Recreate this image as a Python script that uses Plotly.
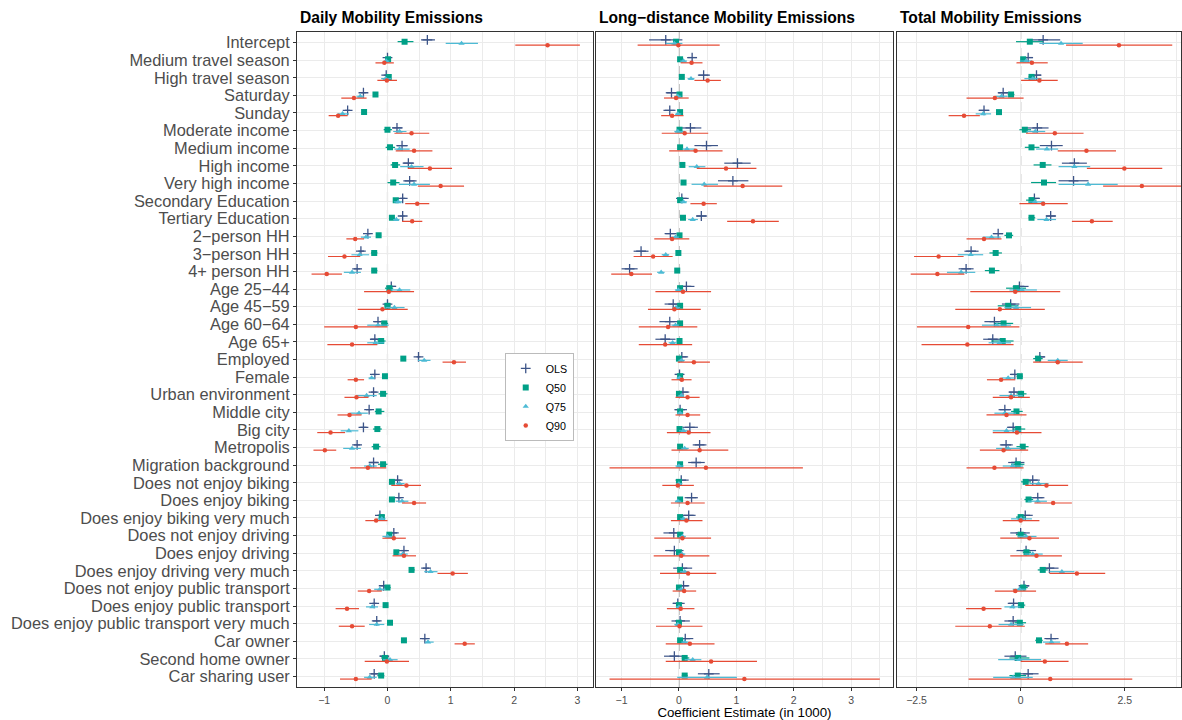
import plotly.graph_objects as go

M = "\u2212"
categories = [
    "Intercept", "Medium travel season", "High travel season", "Saturday", "Sunday",
    "Moderate income", "Medium income", "High income", "Very high income",
    "Secondary Education", "Tertiary Education", "2" + M + "person HH", "3" + M + "person HH",
    "4+ person HH", "Age 25" + M + "44", "Age 45" + M + "59", "Age 60" + M + "64", "Age 65+",
    "Employed", "Female", "Urban environment", "Middle city", "Big city", "Metropolis",
    "Migration background", "Does not enjoy biking", "Does enjoy biking",
    "Does enjoy biking very much", "Does not enjoy driving", "Does enjoy driving",
    "Does enjoy driving very much", "Does not enjoy public transport",
    "Does enjoy public transport", "Does enjoy public transport very much",
    "Car owner", "Second home owner", "Car sharing user",
]

panel_titles = ["Daily Mobility Emissions", "Long" + M + "distance Mobility Emissions", "Total Mobility Emissions"]
models = ["OLS", "Q50", "Q75", "Q90"]

# ---------------- Daily ----------------
daily_ols_est = [0.63, 0.0, -0.02, -0.38, -0.63, 0.15, 0.23, 0.33, 0.35, 0.24, 0.24, -0.31, -0.42, -0.48, 0.06, 0.0, -0.15, -0.2, 0.49, -0.2, -0.22, -0.29, -0.38, -0.48, -0.22, 0.16, 0.18, -0.12, 0.1, 0.26, 0.61, -0.06, -0.21, -0.17, 0.59, -0.05, -0.21]
daily_ols_lo = [0.53, -0.04, -0.06, -0.42, -0.67, 0.08, 0.14, 0.24, 0.25, 0.2, 0.2, -0.34, -0.46, -0.53, 0.01, -0.05, -0.21, -0.26, 0.46, -0.24, -0.26, -0.34, -0.43, -0.53, -0.29, 0.12, 0.15, -0.16, 0.05, 0.21, 0.56, -0.11, -0.24, -0.23, 0.55, -0.12, -0.26]
daily_ols_hi = [0.75, 0.04, 0.02, -0.34, -0.59, 0.24, 0.32, 0.42, 0.46, 0.28, 0.27, -0.27, -0.37, -0.43, 0.13, 0.05, -0.09, -0.15, 0.52, -0.17, -0.17, -0.25, -0.33, -0.43, -0.14, 0.21, 0.22, -0.07, 0.15, 0.31, 0.66, -0.02, -0.17, -0.12, 0.63, 0.02, -0.15]

daily_q50_est = [0.27, 0.01, 0.02, -0.19, -0.37, 0.0, 0.04, 0.12, 0.09, 0.13, 0.07, -0.14, -0.21, -0.21, 0.03, 0.0, -0.05, -0.1, 0.25, -0.04, -0.07, -0.14, -0.16, -0.18, -0.07, 0.07, 0.07, -0.09, 0.03, 0.14, 0.38, 0.0, -0.03, 0.04, 0.26, -0.04, -0.1]
daily_q50_lo = [0.16, -0.02, -0.01, -0.21, -0.39, -0.06, -0.03, 0.05, 0.0, 0.09, 0.04, -0.18, -0.26, -0.25, -0.04, -0.05, -0.1, -0.16, 0.22, -0.06, -0.14, -0.2, -0.23, -0.25, -0.15, 0.04, 0.04, -0.14, -0.01, 0.1, 0.34, -0.05, -0.06, 0.0, 0.24, -0.1, -0.16]
daily_q50_hi = [0.41, 0.04, 0.05, -0.17, -0.35, 0.07, 0.12, 0.2, 0.19, 0.18, 0.11, -0.1, -0.16, -0.16, 0.09, 0.05, 0.01, -0.03, 0.28, -0.02, 0.0, -0.05, -0.09, -0.11, 0.0, 0.12, 0.12, -0.05, 0.06, 0.18, 0.43, 0.05, 0.01, 0.08, 0.28, 0.02, -0.05]

daily_q75_est = [1.17, -0.02, -0.03, -0.43, -0.71, 0.19, 0.19, 0.38, 0.42, 0.17, 0.14, -0.34, -0.44, -0.56, 0.19, 0.11, -0.15, -0.19, 0.58, -0.25, -0.33, -0.45, -0.61, -0.56, -0.28, 0.19, 0.23, -0.09, 0.0, 0.24, 0.68, -0.12, -0.24, -0.17, 0.64, 0.04, -0.28]
daily_q75_lo = [0.92, -0.06, -0.1, -0.49, -0.79, 0.09, 0.11, 0.2, 0.18, 0.1, 0.09, -0.42, -0.57, -0.69, 0.05, -0.03, -0.32, -0.32, 0.48, -0.3, -0.49, -0.59, -0.74, -0.7, -0.37, 0.13, 0.13, -0.16, -0.08, 0.17, 0.58, -0.21, -0.34, -0.29, 0.59, -0.07, -0.37]
daily_q75_hi = [1.43, 0.03, 0.06, -0.37, -0.61, 0.3, 0.35, 0.57, 0.67, 0.23, 0.19, -0.26, -0.29, -0.42, 0.36, 0.27, 0.02, -0.05, 0.68, -0.2, -0.17, -0.31, -0.46, -0.42, -0.17, 0.27, 0.33, -0.03, 0.08, 0.32, 0.79, -0.03, -0.15, -0.05, 0.73, 0.16, -0.17]

daily_q90_est = [2.53, -0.05, -0.01, -0.53, -0.78, 0.38, 0.42, 0.67, 0.84, 0.47, 0.39, -0.51, -0.68, -0.96, 0.02, -0.08, -0.5, -0.56, 1.05, -0.5, -0.49, -0.6, -0.9, -0.99, -0.31, 0.3, 0.42, -0.18, 0.1, 0.26, 1.03, -0.29, -0.64, -0.56, 1.22, -0.01, -0.5]
daily_q90_lo = [2.02, -0.19, -0.16, -0.73, -0.93, 0.11, 0.13, 0.32, 0.48, 0.28, 0.23, -0.65, -0.94, -1.2, -0.37, -0.47, -1.0, -0.95, 0.87, -0.63, -0.68, -0.79, -1.11, -1.17, -0.59, 0.06, 0.23, -0.35, -0.08, 0.08, 0.79, -0.47, -0.82, -0.77, 1.06, -0.36, -0.75]
daily_q90_hi = [3.04, 0.1, 0.15, -0.33, -0.63, 0.66, 0.71, 1.02, 1.21, 0.66, 0.55, -0.37, -0.43, -0.72, 0.42, 0.32, 0.0, -0.16, 1.24, -0.37, -0.3, -0.41, -0.67, -0.81, -0.02, 0.53, 0.61, 0.0, 0.29, 0.45, 1.27, -0.09, -0.45, -0.36, 1.38, 0.34, -0.25]

# ---------------- Long-distance ----------------
long_ols_est = [-0.23, 0.23, 0.43, -0.13, -0.16, 0.2, 0.48, 1.02, 0.94, 0.05, 0.39, -0.15, -0.66, -0.86, 0.13, -0.1, -0.16, -0.24, 0.05, 0.01, 0.07, 0.02, 0.19, 0.36, 0.3, 0.04, 0.22, 0.17, -0.09, -0.08, 0.06, 0.08, -0.02, 0.02, 0.11, -0.08, 0.52]
long_ols_lo = [-0.52, 0.15, 0.33, -0.23, -0.27, 0.0, 0.27, 0.79, 0.68, -0.05, 0.3, -0.25, -0.79, -1.0, 0.0, -0.25, -0.34, -0.41, -0.05, -0.06, -0.04, -0.08, 0.06, 0.24, 0.16, -0.06, 0.1, 0.05, -0.27, -0.24, -0.1, -0.01, -0.11, -0.13, -0.01, -0.26, 0.33]
long_ols_hi = [0.06, 0.31, 0.54, -0.03, -0.06, 0.39, 0.68, 1.25, 1.21, 0.17, 0.49, -0.04, -0.53, -0.72, 0.27, 0.05, 0.03, -0.06, 0.16, 0.09, 0.18, 0.14, 0.33, 0.48, 0.45, 0.17, 0.33, 0.29, 0.08, 0.08, 0.23, 0.18, 0.1, 0.19, 0.25, 0.11, 0.71]

long_q50_est = [-0.05, 0.02, 0.05, 0.01, 0.02, 0.01, 0.02, 0.06, 0.08, 0.02, 0.07, 0.01, -0.01, -0.03, 0.02, 0.02, 0.02, 0.01, 0.0, 0.02, 0.0, 0.02, 0.01, 0.02, 0.02, 0.0, 0.02, 0.02, 0.02, 0.0, 0.02, 0.0, 0.0, 0.0, 0.02, 0.1, 0.1]
long_q50_lo = [-0.09, 0.0, 0.03, -0.01, 0.0, -0.02, 0.0, 0.03, 0.05, 0.0, 0.05, -0.01, -0.03, -0.05, -0.01, -0.01, -0.01, -0.02, -0.02, 0.0, -0.02, -0.01, -0.02, -0.01, -0.01, -0.02, 0.0, 0.0, -0.01, -0.02, -0.01, -0.02, -0.02, -0.02, 0.0, 0.05, 0.05]
long_q50_hi = [-0.01, 0.04, 0.07, 0.03, 0.04, 0.04, 0.04, 0.09, 0.11, 0.04, 0.09, 0.03, 0.01, -0.01, 0.05, 0.05, 0.05, 0.04, 0.02, 0.04, 0.02, 0.05, 0.04, 0.05, 0.05, 0.02, 0.04, 0.04, 0.05, 0.02, 0.05, 0.02, 0.02, 0.02, 0.04, 0.18, 0.15]

long_q75_est = [-0.08, 0.08, 0.21, -0.02, -0.02, -0.02, 0.14, 0.31, 0.44, 0.08, 0.24, -0.06, -0.23, -0.31, -0.01, -0.05, -0.06, -0.11, 0.04, 0.01, 0.04, 0.02, 0.08, 0.1, 0.0, 0.0, -0.02, 0.08, 0.06, 0.05, 0.1, 0.04, 0.0, -0.02, 0.1, 0.24, 0.49]
long_q75_lo = [-0.23, 0.02, 0.15, -0.08, -0.06, -0.08, 0.06, 0.17, 0.22, 0.02, 0.16, -0.13, -0.3, -0.38, -0.07, -0.11, -0.13, -0.18, -0.01, -0.04, -0.01, -0.03, 0.0, 0.04, -0.06, -0.05, -0.07, 0.02, 0.0, -0.01, 0.02, -0.02, -0.05, -0.08, 0.04, 0.1, -0.03]
long_q75_hi = [0.06, 0.14, 0.27, 0.04, 0.04, 0.11, 0.28, 0.46, 0.68, 0.14, 0.33, 0.0, -0.17, -0.25, 0.08, 0.02, 0.0, -0.04, 0.1, 0.06, 0.09, 0.07, 0.16, 0.17, 0.08, 0.06, 0.04, 0.15, 0.12, 0.11, 0.17, 0.1, 0.06, 0.04, 0.17, 0.39, 1.01]

long_q90_est = [-0.01, 0.22, 0.5, -0.05, -0.12, 0.1, 0.29, 0.82, 1.11, 0.43, 1.29, -0.12, -0.45, -0.83, 0.07, -0.08, -0.19, -0.24, 0.26, 0.05, 0.15, 0.15, 0.17, 0.36, 0.47, -0.02, 0.15, 0.13, 0.06, 0.04, 0.16, 0.09, 0.03, 0.01, 0.19, 0.56, 1.14]
long_q90_lo = [-0.72, 0.03, 0.27, -0.26, -0.31, -0.3, -0.17, 0.31, 0.43, 0.2, 0.84, -0.43, -0.79, -1.18, -0.41, -0.54, -0.7, -0.7, -0.02, -0.13, -0.06, -0.06, -0.21, -0.13, -1.21, -0.29, -0.14, -0.14, -0.43, -0.44, -0.33, -0.11, -0.21, -0.4, -0.23, -0.23, -1.21]
long_q90_hi = [0.71, 0.41, 0.73, 0.17, 0.08, 0.51, 0.76, 1.35, 1.8, 0.66, 1.74, 0.18, -0.11, -0.47, 0.56, 0.38, 0.32, 0.23, 0.54, 0.22, 0.36, 0.37, 0.55, 0.86, 2.16, 0.26, 0.45, 0.41, 0.56, 0.53, 0.65, 0.3, 0.27, 0.41, 0.62, 1.36, 3.5]

# ---------------- Total ----------------
total_ols_est = [0.54, 0.18, 0.38, -0.42, -0.88, 0.4, 0.74, 1.29, 1.27, 0.33, 0.72, -0.54, -1.19, -1.31, -0.03, -0.24, -0.63, -0.67, 0.46, -0.14, -0.16, -0.38, -0.18, -0.35, -0.11, 0.29, 0.41, 0.11, 0.0, 0.13, 0.69, 0.08, -0.17, -0.18, 0.73, -0.13, 0.18]
total_ols_lo = [0.17, 0.09, 0.29, -0.55, -1.01, 0.13, 0.46, 0.99, 0.91, 0.21, 0.61, -0.67, -1.35, -1.49, -0.19, -0.45, -0.87, -0.9, 0.35, -0.23, -0.29, -0.53, -0.33, -0.5, -0.3, 0.13, 0.25, -0.05, -0.25, -0.1, 0.46, -0.05, -0.31, -0.39, 0.57, -0.39, -0.05]
total_ols_hi = [0.95, 0.29, 0.49, -0.29, -0.75, 0.67, 1.01, 1.59, 1.63, 0.46, 0.85, -0.42, -1.01, -1.13, 0.19, -0.03, -0.37, -0.43, 0.59, -0.05, -0.02, -0.23, -0.03, -0.19, 0.09, 0.46, 0.57, 0.29, 0.22, 0.37, 0.91, 0.21, -0.03, 0.03, 0.91, 0.14, 0.43]

total_q50_est = [0.22, 0.06, 0.26, -0.23, -0.52, 0.1, 0.26, 0.53, 0.56, 0.26, 0.26, -0.28, -0.6, -0.69, -0.11, -0.3, -0.41, -0.43, 0.42, -0.02, 0.01, -0.1, -0.06, 0.05, -0.07, 0.12, 0.19, 0.0, 0.0, 0.14, 0.53, 0.06, 0.01, -0.02, 0.44, -0.06, -0.07]
total_q50_lo = [-0.11, 0.01, 0.19, -0.31, -0.59, -0.03, 0.1, 0.31, 0.25, 0.13, 0.19, -0.39, -0.75, -0.86, -0.35, -0.55, -0.63, -0.71, 0.3, -0.1, -0.1, -0.23, -0.19, -0.1, -0.23, 0.01, 0.09, -0.11, -0.11, 0.05, 0.41, -0.03, -0.07, -0.15, 0.35, -0.27, -0.27]
total_q50_hi = [0.54, 0.14, 0.35, -0.15, -0.45, 0.25, 0.45, 0.74, 0.85, 0.38, 0.35, -0.18, -0.45, -0.51, 0.13, -0.05, -0.18, -0.17, 0.53, 0.05, 0.14, 0.05, 0.11, 0.19, 0.09, 0.25, 0.3, 0.13, 0.13, 0.25, 0.65, 0.17, 0.11, 0.13, 0.53, 0.21, 0.13]

total_q75_est = [0.97, 0.13, 0.29, -0.46, -0.9, 0.35, 0.63, 1.29, 1.62, 0.34, 0.62, -0.7, -1.2, -1.43, 0.03, -0.11, -0.57, -0.51, 0.89, -0.3, -0.23, -0.38, -0.34, -0.3, -0.19, 0.43, 0.41, 0.01, 0.13, 0.29, 0.99, -0.03, -0.2, -0.23, 0.74, -0.03, -0.18]
total_q75_lo = [0.45, -0.02, 0.09, -0.61, -1.08, 0.14, 0.37, 0.91, 0.91, 0.19, 0.4, -0.91, -1.51, -1.77, -0.27, -0.39, -0.93, -0.77, 0.65, -0.45, -0.51, -0.63, -0.67, -0.59, -0.43, 0.21, 0.17, -0.23, -0.07, 0.09, 0.69, -0.19, -0.39, -0.53, 0.53, -0.54, -0.66]
total_q75_hi = [1.49, 0.27, 0.5, -0.31, -0.71, 0.59, 0.9, 1.67, 2.33, 0.57, 0.85, -0.48, -0.9, -1.09, 0.39, 0.25, -0.23, -0.23, 1.13, -0.15, 0.05, -0.11, 0.01, 0.01, 0.06, 0.67, 0.63, 0.27, 0.38, 0.53, 1.29, 0.13, -0.01, 0.07, 0.95, 0.49, 0.29]

total_q90_est = [2.36, 0.27, 0.45, -0.62, -1.36, 0.82, 1.58, 2.49, 2.91, 0.54, 1.71, -0.88, -1.97, -2.0, -0.13, -0.5, -1.26, -1.28, 0.89, -0.47, -0.23, -0.34, -0.09, -0.41, -0.63, 0.62, 0.78, 0.0, 0.21, 0.38, 1.35, -0.13, -0.89, -0.74, 1.11, 0.58, 0.71]
total_q90_lo = [1.09, -0.1, 0.01, -1.3, -1.73, 0.13, 0.89, 1.59, 1.98, -0.03, 1.23, -1.3, -2.56, -2.64, -1.21, -1.57, -2.49, -2.38, 0.3, -0.81, -0.67, -0.82, -0.67, -0.98, -1.3, 0.11, 0.33, -0.43, -0.49, -0.25, 0.69, -0.62, -1.31, -1.57, 0.59, 0.0, -1.25]
total_q90_hi = [3.64, 0.65, 0.89, 0.07, -0.98, 1.51, 2.29, 3.4, 3.85, 1.13, 2.21, -0.46, -1.37, -1.35, 0.95, 0.58, -0.03, -0.17, 1.49, -0.13, 0.22, 0.14, 0.5, 0.18, 0.07, 1.14, 1.23, 0.45, 0.92, 0.99, 2.03, 0.37, -0.46, 0.1, 1.62, 1.15, 2.68]

panels = [
    {"OLS": (daily_ols_est, daily_ols_lo, daily_ols_hi), "Q50": (daily_q50_est, daily_q50_lo, daily_q50_hi),
     "Q75": (daily_q75_est, daily_q75_lo, daily_q75_hi), "Q90": (daily_q90_est, daily_q90_lo, daily_q90_hi)},
    {"OLS": (long_ols_est, long_ols_lo, long_ols_hi), "Q50": (long_q50_est, long_q50_lo, long_q50_hi),
     "Q75": (long_q75_est, long_q75_lo, long_q75_hi), "Q90": (long_q90_est, long_q90_lo, long_q90_hi)},
    {"OLS": (total_ols_est, total_ols_lo, total_ols_hi), "Q50": (total_q50_est, total_q50_lo, total_q50_hi),
     "Q75": (total_q75_est, total_q75_lo, total_q75_hi), "Q90": (total_q90_est, total_q90_lo, total_q90_hi)},
]

# ---------------- styles ----------------
colors = {"OLS": "#3C5488", "Q50": "#00A087", "Q75": "#4DBBD5", "Q90": "#E64B35"}
symbols = {"OLS": "cross-thin-open", "Q50": "square", "Q75": "triangle-up", "Q90": "circle"}
sizes = {"OLS": 7, "Q50": 6, "Q75": 5.5, "Q90": 4.5}
dodge = {"OLS": -0.15, "Q50": -0.05, "Q75": 0.05, "Q90": 0.15}

FONT = "Liberation Sans, Arial, Helvetica, sans-serif"
GRID = "#EBEBEB"
BORDER = "#333333"
TXT = "#4D4D4D"

domains = [[0.0, 0.3343], [0.3382, 0.6742], [0.6787, 1.0]]
xranges = [[-1.43, 3.24], [-1.446, 3.73], [-2.97, 3.85]]
major_ticks = [[-1, 0, 1, 2, 3], [-1, 0, 1, 2, 3], [-2.5, 0, 2.5]]
minor_ticks = [[-0.5, 0.5, 1.5, 2.5], [-0.5, 0.5, 1.5, 2.5, 3.5], [-1.25, 1.25, 3.75]]
tick_text = [["\u22121", "0", "1", "2", "3"], ["\u22121", "0", "1", "2", "3"], ["\u22122.5", "0", "2.5"]]

fig = go.Figure()
ypos = list(range(len(categories)))

for p, pdata in enumerate(panels):
    xa = "x" if p == 0 else f"x{p+1}"
    ya = "y" if p == 0 else f"y{p+1}"
    for m in models:
        est, lo, hi = pdata[m]
        assert len(est) == len(lo) == len(hi) == len(categories)
        fig.add_trace(go.Scatter(
            x=est,
            y=[i + dodge[m] for i in ypos],
            mode="markers",
            name=m,
            legendgroup=m,
            showlegend=(p == 0),
            xaxis=xa, yaxis=ya,
            marker=dict(symbol=symbols[m], size=sizes[m], color=colors[m],
                        line=dict(width=1.3 if m == "OLS" else 0, color=colors[m])),
            error_x=dict(type="data", symmetric=False,
                         array=[h - e for h, e in zip(hi, est)],
                         arrayminus=[e - l for e, l in zip(est, lo)],
                         color=colors[m], thickness=1.2, width=0),
        ))

layout = dict(
    width=1182, height=720, autosize=False,
    margin=dict(l=297, r=1, t=32, b=33),
    paper_bgcolor="white", plot_bgcolor="white",
    font=dict(family=FONT, color="black"),
    showlegend=True,
    legend=dict(x=0.235, y=0.51, xanchor="left", yanchor="top",
                bgcolor="white", bordercolor="#BBBBBB", borderwidth=1,
                font=dict(size=10.7, family=FONT, color="black"),
                tracegroupgap=0, itemwidth=30),
)

for p in range(3):
    key = "xaxis" if p == 0 else f"xaxis{p+1}"
    yk = "y" if p == 0 else f"y{p+1}"
    layout[key] = dict(
        domain=domains[p], range=xranges[p], anchor=yk,
        tickmode="array", tickvals=major_ticks[p], ticktext=tick_text[p],
        showgrid=True, gridcolor=GRID, gridwidth=1.1, zeroline=False,
        minor=dict(tickmode="array", tickvals=minor_ticks[p], showgrid=True,
                   gridcolor=GRID, gridwidth=0.55, ticks=""),
        showline=True, mirror=True, linecolor=BORDER, linewidth=1,
        ticks="outside", ticklen=3, tickcolor=BORDER, tickwidth=1,
        tickfont=dict(size=10.5, color=TXT, family=FONT),
        automargin=False,
    )
    ykey = "yaxis" if p == 0 else f"yaxis{p+1}"
    xk = "x" if p == 0 else f"x{p+1}"
    layout[ykey] = dict(
        domain=[0, 1], range=[len(categories) - 0.4, -0.6], anchor=xk,
        tickmode="array", tickvals=ypos, ticktext=categories,
        showticklabels=(p == 0),
        showgrid=True, gridcolor=GRID, gridwidth=1.1, zeroline=False,
        showline=True, mirror=True, linecolor=BORDER, linewidth=1,
        ticks="outside" if p == 0 else "", ticklen=3, tickcolor=BORDER, tickwidth=1,
        tickfont=dict(size=16.4, color=TXT, family=FONT),
        automargin=False,
    )

layout["xaxis2"]["title"] = dict(text="Coefficient Estimate (in 1000)",
                                 font=dict(size=13.3, color="black", family=FONT), standoff=2)

annotations = []
for p in range(3):
    annotations.append(dict(text="<b>" + panel_titles[p] + "</b>", x=domains[p][0] + 0.0012, y=1.0229,
                            xref="paper", yref="paper", xanchor="left", yanchor="middle",
                            showarrow=False, font=dict(size=15.6, color="black", family=FONT)))
layout["annotations"] = annotations

shapes = []
for p in range(3):
    xr = "x" if p == 0 else f"x{p+1}"
    yr = "y domain" if p == 0 else f"y{p+1} domain"
    shapes.append(dict(type="line", xref=xr, yref=yr, x0=0, x1=0, y0=0, y1=1,
                       line=dict(color="#8C8C8C", width=1.1, dash="dash"), layer="below"))
layout["shapes"] = shapes

fig.update_layout(**layout)
fig.write_html("out.html")
